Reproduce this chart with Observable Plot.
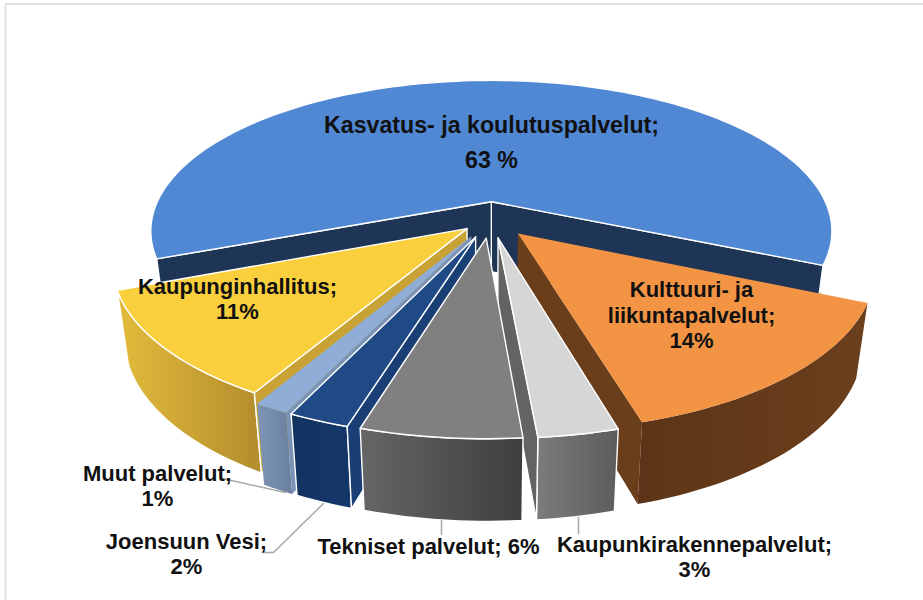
<!DOCTYPE html>
<html>
<head>
<meta charset="utf-8">
<style>html,body{margin:0;padding:0;background:#fff}svg{display:block}</style>
<script src="https://cdn.jsdelivr.net/npm/d3@7"></script>
<script src="https://cdn.jsdelivr.net/npm/@observablehq/plot@0.6"></script>
</head>
<body>
<script>
// Data (clockwise, starting with the top slice)
const names = ["Kasvatus- ja koulutuspalvelut", "Kulttuuri- ja liikuntapalvelut", "Kaupunkirakennepalvelut", "Tekniset palvelut", "Joensuun Vesi", "Muut palvelut", "Kaupunginhallitus"];
const shares = [62.6, 14, 3, 6, 2.3, 1.3, 10.8];
const labelTexts = ["Kasvatus- ja koulutuspalvelut;\n63 %", "Kulttuuri- ja\nliikuntapalvelut;\n14%", "Kaupunkirakennepalvelut;\n3%", "Tekniset palvelut; 6%", "Joensuun Vesi;\n2%", "Muut palvelut;\n1%", "Kaupunginhallitus;\n11%"];

// Styling, separate from the data
const topColors = ["#5088d4", "#f39444", "#d6d6d6", "#808080", "#1f4a85", "#8fadd6", "#f9cf3e"];
const cutColors = ["#1f3556", "#6a3d1b", "#636363", "#5a5a5a", "#1a3f75", "#7b93b6", "#c9a235"];
const wallColors = ["#1f3556", "url(#gOrange)", "url(#gLight)", "url(#gGray)", "url(#gNavy)", "url(#gPale)", "url(#gYellow)"];
const edgeColors = ["#fff", "none", "#fff", "#fff", "#fff", "none", "#fff"];
const explodeBy = [0.12, 0.12, 0.12, 0.12, 0.12, 0.12, 0.09];
const paintOrder = [0, 6, 1, 5, 4, 2, 3];
const labelX = [491, 691, 694, 428, 186, 157, 237];
const labelY = [139, 314, 556, 545, 553, 485, 298];
const labelSize = [23.2, 22, 22, 22, 22, 22, 22];
const leaders = [
  [[222, 478], [285, 492]],
  [[262, 552], [273, 552], [323, 503]],
  [[441, 520], [441, 534]],
  [[578, 517], [578, 533]]
];

// Perspective view of the pie
const view = {cx: 490, cy: 219, A: 342, B: 152, p: 0.2, H: 71, start: -111.5};
const rad = (d) => d * Math.PI / 180;
function project(u, v) {
  const s = 1 / (1 + view.p * v);
  return {x: view.cx + view.A * u * s, y: view.cy - view.B * v * s, s};
}
const drop = (q) => ({x: view.cx + (q.x - view.cx) * 0.97, y: q.y + view.H * Math.pow(q.s, 0.6)});

const total = d3.sum(shares);
let acc = view.start;
const slices = shares.map((share, i) => {
  const a0 = acc, a1 = acc + share / total * 360;
  acc = a1;
  const mid = rad((a0 + a1) / 2);
  const ox = explodeBy[i] * Math.sin(mid), oy = explodeBy[i] * Math.cos(mid);
  const n = Math.max(2, Math.ceil((a1 - a0) / 1.5));
  const arc = d3.range(n + 1).map((k) => {
    const t = rad(a0 + (a1 - a0) * k / n);
    return project(ox + Math.sin(t), oy + Math.cos(t));
  });
  return {i, apex: project(ox, oy), arc};
});

const face = (pts, fill, stroke, sw = 1.4) =>
  Plot.line([...pts, pts[0]], {x: "x", y: "y", fill, stroke, strokeWidth: sw, strokeLinejoin: "round", curve: "linear"});

// Signed area on screen: positive = clockwise as seen (y points down)
const turn = (pts) => d3.sum(pts, (q, k) => {
  const r = pts[(k + 1) % pts.length];
  return q.x * r.y - r.x * q.y;
});

const faces = paintOrder.flatMap((i) => {
  const {apex, arc} = slices[i];
  const first = arc[0], last = arc[arc.length - 1];
  const wall = [...arc, ...arc.map(drop).reverse()];
  const cutA = [apex, first, drop(first), drop(apex)];
  const cutB = [apex, last, drop(last), drop(apex)];
  const marks = [face(wall, wallColors[i], edgeColors[i])];
  if (turn(cutB) > 0) marks.push(face(cutB, cutColors[i], edgeColors[i]));
  if (turn(cutA) < 0) marks.push(face(cutA, cutColors[i], edgeColors[i]));
  marks.push(face([apex, ...arc], topColors[i], edgeColors[i]));
  return marks;
});

function gradient(defs, id, c0, c1) {
  const g = defs.append("linearGradient").attr("id", id).attr("x1", 0).attr("x2", 1).attr("y1", 0).attr("y2", 0);
  g.append("stop").attr("offset", 0).attr("stop-color", c0);
  g.append("stop").attr("offset", 1).attr("stop-color", c1);
}
const defsMark = () => {
  const defs = d3.create("svg:defs");
  gradient(defs, "gOrange", "#5c3518", "#6c3f1c");
  gradient(defs, "gLight", "#7c7c7c", "#5c5c5c");
  gradient(defs, "gGray", "#666666", "#3e3e3e");
  gradient(defs, "gNavy", "#123360", "#15366a");
  gradient(defs, "gPale", "#7f95b6", "#687f9e");
  gradient(defs, "gYellow", "#e3bb3c", "#b38c2c");
  return defs.node();
};

const labels = labelTexts.map((text, i) => ({text, x: labelX[i], y: labelY[i], size: labelSize[i], name: names[i]}));
const textStyle = {
  x: "x", y: "y", text: "text", textAnchor: "middle", fontSize: "size",
  fontFamily: "Liberation Sans, Arial, sans-serif", fontWeight: "bold", fill: "#111"
};

const chart = Plot.plot({
  width: 923,
  height: 600,
  margin: 0,
  x: {domain: [0, 923], range: [0, 923], axis: null},
  y: {domain: [0, 600], range: [0, 600], axis: null},
  marks: [
    defsMark,
    Plot.line([{x: 5, y: 600}, {x: 5, y: 3.5}, {x: 923, y: 3.5}], {x: "x", y: "y", stroke: "#e2e2e2", strokeWidth: 2}),
    ...faces,
    ...leaders.map((l) => Plot.line(l.map(([x, y]) => ({x, y})), {x: "x", y: "y", stroke: "#a8a8a8", strokeWidth: 1.5})),
    Plot.text(labels.slice(0, 1), {...textStyle, lineHeight: 1.5}),
    Plot.text(labels.slice(1), {...textStyle, lineHeight: 1.16})
  ]
});
document.body.appendChild(chart);
</script>
</body>
</html>
